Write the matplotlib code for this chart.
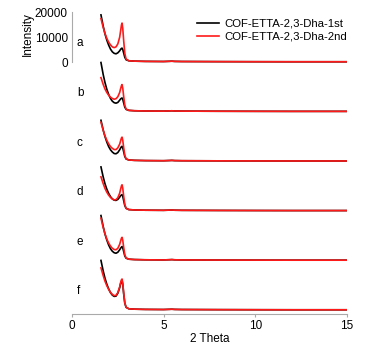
import matplotlib
matplotlib.use("Agg")
import matplotlib.pyplot as plt

plt.rcParams['font.family'] = ['Liberation Sans', 'DejaVu Sans']

two_theta = [1.58, 1.7, 1.8, 1.9, 2.0, 2.1, 2.2, 2.3, 2.4, 2.5, 2.6, 2.65, 2.7, 2.73,
             2.77, 2.82, 2.88, 2.95, 3.1, 3.4, 4.0, 5.0, 5.3, 5.45, 5.6, 6.0, 8.0, 10.0, 12.0, 15.0]
tail = [500, 350, 250, 200, 280, 330, 250, 200, 150, 120, 100, 100]

panel_labels = ['a', 'b', 'c', 'd', 'e', 'f']

first_a = [19000, 14500, 11300, 8800, 6800, 5200, 4100, 3500, 3300, 3700, 4500, 5100, 5500, 5600, 5000, 3600, 1900, 900] + tail
second_a = [17500, 14000, 11500, 9500, 8000, 6900, 6100, 5800, 6100, 7300, 10000, 12500, 15000, 15700, 13500, 8500, 3500, 1200] + tail
first_b = [19800, 15000, 11700, 9000, 6900, 5300, 4200, 3600, 3400, 3700, 4600, 5100, 5400, 5500, 4900, 3500, 1800, 900] + tail
second_b = [13700, 11000, 9100, 7700, 6600, 5800, 5300, 5000, 5200, 6000, 7700, 9200, 10500, 10900, 9400, 6000, 2600, 1000] + tail
first_c = [16500, 12600, 9900, 7700, 5900, 4600, 3700, 3100, 3000, 3500, 4600, 5300, 5900, 6000, 5300, 3800, 1900, 900] + tail
second_c = [15700, 12500, 10200, 8400, 7000, 5900, 5200, 4700, 4700, 5400, 6900, 8200, 9400, 9700, 8400, 5400, 2400, 1000] + tail
first_d = [17700, 13700, 10900, 8700, 7000, 5700, 4800, 4300, 4200, 4600, 5500, 6100, 6400, 6500, 5800, 4100, 2100, 1000] + tail
second_d = [13700, 11000, 9000, 7500, 6300, 5400, 4800, 4400, 4500, 5300, 7100, 8700, 10100, 10500, 9100, 5800, 2600, 1000] + tail
first_e = [18100, 13700, 10600, 8200, 6200, 4700, 3700, 3100, 2900, 3300, 4300, 4900, 5400, 5600, 5000, 3600, 1800, 900] + tail
second_e = [17000, 13300, 10700, 8600, 7000, 5800, 4900, 4400, 4300, 4900, 6500, 7800, 9000, 9300, 8100, 5200, 2300, 1000] + tail
first_f = [20000, 15800, 12800, 10400, 8500, 7000, 6000, 5500, 5600, 6800, 9000, 10600, 11700, 12000, 10300, 6500, 2800, 1100] + tail
second_f = [17000, 13900, 11600, 9800, 8300, 7100, 6300, 5800, 5900, 7000, 9300, 11000, 12200, 12500, 10700, 6800, 2900, 1100] + tail

first_runs = [first_a, first_b, first_c, first_d, first_e, first_f]
second_runs = [second_a, second_b, second_c, second_d, second_e, second_f]
series_names = ['COF-ETTA-2,3-Dha-1st', 'COF-ETTA-2,3-Dha-2nd']
offset_step = 20000

fig = plt.figure(figsize=(3.8, 3.46), dpi=100)
ax = fig.add_axes([0.1895, 0.0925, 0.7235, 0.8786])

n = len(panel_labels)
for i, (lab, y1, y2) in enumerate(zip(panel_labels, first_runs, second_runs)):
    off = (n - 1 - i) * offset_step
    l1, = ax.plot(two_theta, [v + off for v in y1], color='black', lw=1.2)
    l2, = ax.plot(two_theta, [v + off for v in y2], color='#ff1a1a', lw=1.2)
    ax.text(0.27, off + 7500, lab, fontsize=8.5, ha='left', va='center')
    if i == 0:
        l1.set_label(series_names[0])
        l2.set_label(series_names[1])

ax.set_xlim(0, 15)
ax.set_ylim(-1600, 120970)

top_off = (n - 1) * offset_step
ax.set_yticks([top_off, top_off + 10000, top_off + 20000])
ax.set_yticklabels(['0', '10000', '20000'])
ax.set_xticks([0, 5, 10, 15])

for s in ['top', 'right']:
    ax.spines[s].set_visible(False)
ax.spines['left'].set_bounds(top_off, top_off + 20000)
ax.spines['bottom'].set_bounds(0, 15)
for s in ['left', 'bottom']:
    ax.spines[s].set_color('#aaaaaa')
    ax.spines[s].set_linewidth(0.8)
ax.tick_params(axis='both', labelsize=8.5, color='#aaaaaa', width=0.8)
ax.tick_params(axis='y', length=0, pad=3)
ax.tick_params(axis='x', length=2, pad=2)

ax.set_xlabel('2 Theta', fontsize=8.5, labelpad=1)
ax.set_ylabel('Intensity', fontsize=8.5)
ax.yaxis.set_label_coords(-0.138, 0.921)

ax.legend(loc='upper right', bbox_to_anchor=(1.0, 0.972), frameon=False, fontsize=8.2,
          handlelength=1.9, handletextpad=0.45, borderaxespad=0, borderpad=0, labelspacing=0.3)

fig.savefig('out.png', dpi=100)
